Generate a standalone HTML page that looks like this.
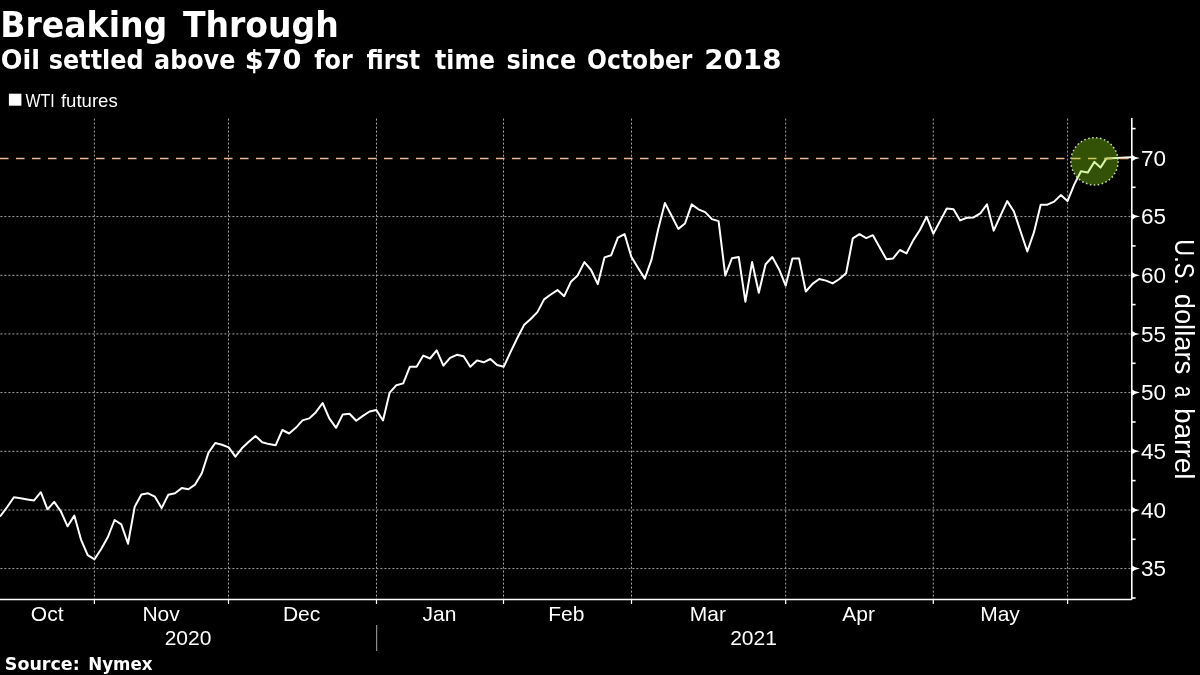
<!DOCTYPE html>
<html><head><meta charset="utf-8"><style>
html,body{margin:0;padding:0;background:#000;}
body{width:1200px;height:675px;overflow:hidden;position:relative;}
svg{will-change:transform;position:absolute;left:0;top:0;display:block;}
</style></head><body>
<svg width="1200" height="675" viewBox="0 0 1200 675">
<rect width="1200" height="675" fill="#000"/>
<text x="0" y="36.8" font-family="'DejaVu Sans', sans-serif" font-weight="bold" font-size="35" fill="#fff" transform="translate(0.16 0) scale(0.9474 1)">Breaking</text>
<text x="0" y="36.8" font-family="'DejaVu Sans', sans-serif" font-weight="bold" font-size="35" fill="#fff" transform="translate(182.9 0) scale(0.9451 1)">Through</text>
<text x="0" y="68.8" font-family="'DejaVu Sans', sans-serif" font-weight="bold" font-size="26.5" fill="#fff" transform="translate(0.74 0) scale(0.9632 1)">Oil</text>
<text x="0" y="68.8" font-family="'DejaVu Sans', sans-serif" font-weight="bold" font-size="26.5" fill="#fff" transform="translate(48.8 0) scale(0.902 1)">settled</text>
<text x="0" y="68.8" font-family="'DejaVu Sans', sans-serif" font-weight="bold" font-size="26.5" fill="#fff" transform="translate(154.1 0) scale(0.9 1)">above</text>
<text x="0" y="68.8" font-family="'DejaVu Sans', sans-serif" font-weight="bold" font-size="26.5" fill="#fff" transform="translate(244.65 0) scale(1.025 1)">$70</text>
<text x="0" y="68.8" font-family="'DejaVu Sans', sans-serif" font-weight="bold" font-size="26.5" fill="#fff" transform="translate(314.2 0) scale(0.9023 1)">for</text>
<text x="0" y="68.8" font-family="'DejaVu Sans', sans-serif" font-weight="bold" font-size="26.5" fill="#fff" transform="translate(366.4 0) scale(0.8787 1)">first</text>
<text x="0" y="68.8" font-family="'DejaVu Sans', sans-serif" font-weight="bold" font-size="26.5" fill="#fff" transform="translate(435.0 0) scale(0.8924 1)">time</text>
<text x="0" y="68.8" font-family="'DejaVu Sans', sans-serif" font-weight="bold" font-size="26.5" fill="#fff" transform="translate(506.4 0) scale(0.9027 1)">since</text>
<text x="0" y="68.8" font-family="'DejaVu Sans', sans-serif" font-weight="bold" font-size="26.5" fill="#fff" transform="translate(587.12 0) scale(0.8847 1)">October</text>
<text x="0" y="68.8" font-family="'DejaVu Sans', sans-serif" font-weight="bold" font-size="26.5" fill="#fff" transform="translate(704.31 0) scale(1.0457 1)">2018</text>
<text x="0" y="669.6" font-family="'DejaVu Sans', sans-serif" font-weight="bold" font-size="17" fill="#fff" transform="translate(4.77 0) scale(1.03 1)">Source:</text>
<text x="0" y="669.6" font-family="'DejaVu Sans', sans-serif" font-weight="bold" font-size="17" fill="#fff" transform="translate(88.22 0) scale(0.9812 1)">Nymex</text>
<text x="0" y="106.75" font-family="'Liberation Sans', sans-serif" font-weight="normal" font-size="17.5" fill="#fff" transform="translate(25.5 0) scale(0.9065 1)">WTI</text>
<text x="0" y="0" font-family="'Liberation Sans', sans-serif" font-weight="normal" font-size="27.5" fill="#fff" transform="translate(1174.6 239.3) rotate(90) scale(0.851 1)">U.S.</text>
<text x="0" y="0" font-family="'Liberation Sans', sans-serif" font-weight="normal" font-size="27.5" fill="#fff" transform="translate(1174.6 293.71) rotate(90) scale(0.9949 1)">dollars</text>
<text x="0" y="0" font-family="'Liberation Sans', sans-serif" font-weight="normal" font-size="27.5" fill="#fff" transform="translate(1174.6 385.96) rotate(90) scale(0.7357 1)">a</text>
<text x="0" y="0" font-family="'Liberation Sans', sans-serif" font-weight="normal" font-size="27.5" fill="#fff" transform="translate(1174.6 407.96) rotate(90) scale(1.0194 1)">barrel</text>
<text x="0" y="106.75" font-family="'Liberation Sans', sans-serif" font-weight="normal" font-size="17.5" fill="#fff" transform="translate(60.9 0) scale(1.0623 1)">futures</text>

<rect x="8.9" y="93.7" width="12.5" height="12" fill="#fff"/>
<g stroke="#a6a6a6" stroke-width="1" stroke-dasharray="2 2" fill="none"><g stroke-dashoffset="-0.4"><line x1="0" y1="568.6" x2="1131.8" y2="568.6"/><line x1="0" y1="510.0" x2="1131.8" y2="510.0"/><line x1="0" y1="451.3" x2="1131.8" y2="451.3"/><line x1="0" y1="392.6" x2="1131.8" y2="392.6"/><line x1="0" y1="333.9" x2="1131.8" y2="333.9"/><line x1="0" y1="275.3" x2="1131.8" y2="275.3"/><line x1="0" y1="216.6" x2="1131.8" y2="216.6"/></g><g stroke-dashoffset="-0.6"><line x1="94.4" y1="118" x2="94.4" y2="599.4"/><line x1="228.5" y1="118" x2="228.5" y2="599.4"/><line x1="376.5" y1="118" x2="376.5" y2="599.4"/><line x1="503.5" y1="118" x2="503.5" y2="599.4"/><line x1="631.5" y1="118" x2="631.5" y2="599.4"/><line x1="785.7" y1="118" x2="785.7" y2="599.4"/><line x1="933.3" y1="118" x2="933.3" y2="599.4"/><line x1="1067.6" y1="118" x2="1067.6" y2="599.4"/></g></g>
<path d="M0.5,516.0 L7.2,507.0 L13.9,497.2 L20.6,498.3 L27.3,499.4 L34.1,500.4 L40.8,492.2 L47.5,509.3 L54.2,501.9 L60.9,511.5 L67.6,526.3 L74.3,515.6 L81.0,539.6 L87.7,555.2 L94.5,559.3 L101.2,549.0 L107.9,537.0 L114.6,520.0 L121.3,524.4 L128.0,543.7 L134.7,506.7 L141.4,494.4 L148.1,493.3 L154.9,496.7 L161.6,508.1 L168.3,494.8 L175.0,493.3 L181.7,488.1 L188.4,489.3 L195.1,484.6 L201.8,473.3 L208.5,452.6 L215.3,443.0 L222.0,444.8 L228.7,447.4 L235.4,456.6 L242.1,448.1 L248.8,441.8 L255.5,436.0 L262.2,442.2 L268.9,444.1 L275.7,445.2 L282.4,430.0 L289.1,433.5 L295.8,427.8 L302.5,420.4 L309.2,418.4 L315.9,412.2 L322.6,403.0 L329.3,418.4 L336.1,427.8 L342.8,414.4 L349.5,413.7 L356.2,420.8 L362.9,415.9 L369.6,411.5 L376.3,410.0 L383.0,420.5 L389.7,392.6 L396.4,385.2 L403.2,383.4 L409.9,366.7 L416.6,366.7 L423.3,355.6 L430.0,358.5 L436.7,350.4 L443.4,365.6 L450.1,357.8 L456.8,354.8 L463.6,356.3 L470.3,366.7 L477.0,360.4 L483.7,362.3 L490.4,359.0 L497.1,365.0 L503.8,366.7 L510.5,352.2 L517.2,338.3 L524.0,325.1 L530.7,319.0 L537.4,312.1 L544.1,299.4 L550.8,294.5 L557.5,290.1 L564.2,296.2 L570.9,281.8 L577.6,275.5 L584.4,262.1 L591.1,270.0 L597.8,284.1 L604.5,257.4 L611.2,255.2 L617.9,237.7 L624.6,234.1 L631.3,256.7 L638.0,267.8 L644.8,278.6 L651.5,259.6 L658.2,229.3 L664.9,203.0 L671.6,215.8 L678.3,228.9 L685.0,223.5 L691.7,204.4 L698.4,209.3 L705.2,212.1 L711.9,219.1 L718.6,221.1 L725.3,275.6 L732.0,258.2 L738.7,256.9 L745.4,301.7 L752.1,262.0 L758.8,292.7 L765.6,264.2 L772.3,257.0 L779.0,269.2 L785.7,285.5 L792.4,258.6 L799.1,258.6 L805.8,291.5 L812.5,283.9 L819.2,279.0 L826.0,280.6 L832.7,283.4 L839.4,279.0 L846.1,273.3 L852.8,238.3 L859.5,234.2 L866.2,238.1 L872.9,235.2 L879.6,247.2 L886.4,259.3 L893.1,258.4 L899.8,250.0 L906.5,253.4 L913.2,240.4 L919.9,230.0 L926.6,216.7 L933.3,233.7 L940.0,221.1 L946.8,208.5 L953.5,209.3 L960.2,220.4 L966.9,217.7 L973.6,217.4 L980.3,213.3 L987.0,204.4 L993.7,230.7 L1000.4,215.9 L1007.2,201.1 L1013.9,211.5 L1020.6,231.5 L1027.3,251.5 L1034.0,232.2 L1040.7,204.7 L1047.4,204.7 L1054.1,201.6 L1060.8,195.1 L1067.5,201.1 L1074.3,184.4 L1081.0,171.2 L1087.7,172.6 L1094.4,161.9 L1100.5,167.6 L1106.4,158.4 L1131.0,157.2" fill="none" stroke="#fff" stroke-width="2" stroke-linejoin="round" stroke-linecap="round"/>
<line x1="0" y1="158.5" x2="1131.8" y2="158.5" stroke="#f0b690" stroke-width="1.4" stroke-dasharray="8.5 7.5"/>
<circle cx="1094.5" cy="161.3" r="23.6" fill="#8ee40e" fill-opacity="0.36" stroke="#c4e0a0" stroke-width="1.5" stroke-dasharray="1.6 2.4"/>
<g stroke="#fff" stroke-width="1.6" fill="none">
<line x1="0" y1="599.5" x2="1131.8" y2="599.5" stroke-width="1.3"/>
<line x1="1131.8" y1="118" x2="1131.8" y2="599.4"/>
<g stroke-width="1.2"><line x1="94.4" y1="599.4" x2="94.4" y2="604"/><line x1="228.5" y1="599.4" x2="228.5" y2="604"/><line x1="376.5" y1="599.4" x2="376.5" y2="604"/><line x1="503.5" y1="599.4" x2="503.5" y2="604"/><line x1="631.5" y1="599.4" x2="631.5" y2="604"/><line x1="785.7" y1="599.4" x2="785.7" y2="604"/><line x1="933.3" y1="599.4" x2="933.3" y2="604"/><line x1="1067.6" y1="599.4" x2="1067.6" y2="604"/></g><line x1="1131.8" y1="598.0" x2="1135.6" y2="598.0"/><line x1="1131.8" y1="539.3" x2="1135.6" y2="539.3"/><line x1="1131.8" y1="480.6" x2="1135.6" y2="480.6"/><line x1="1131.8" y1="422.0" x2="1135.6" y2="422.0"/><line x1="1131.8" y1="363.3" x2="1135.6" y2="363.3"/><line x1="1131.8" y1="304.6" x2="1135.6" y2="304.6"/><line x1="1131.8" y1="245.9" x2="1135.6" y2="245.9"/><line x1="1131.8" y1="187.3" x2="1135.6" y2="187.3"/><line x1="1131.8" y1="128.6" x2="1135.6" y2="128.6"/>
</g>
<line x1="376.7" y1="625" x2="376.7" y2="651" stroke="#aaa" stroke-width="1"/>
<g fill="#fff"><path d="M1131.8,565.33 Q1134.8,568.03 1140.0,568.63 Q1134.8,569.23 1131.8,571.93 Z"/><path d="M1131.8,506.65999999999997 Q1134.8,509.35999999999996 1140.0,509.96 Q1134.8,510.56 1131.8,513.26 Z"/><path d="M1131.8,447.99 Q1134.8,450.69 1140.0,451.29 Q1134.8,451.89000000000004 1131.8,454.59000000000003 Z"/><path d="M1131.8,389.32 Q1134.8,392.02 1140.0,392.62 Q1134.8,393.22 1131.8,395.92 Z"/><path d="M1131.8,330.65 Q1134.8,333.34999999999997 1140.0,333.95 Q1134.8,334.55 1131.8,337.25 Z"/><path d="M1131.8,271.97999999999996 Q1134.8,274.67999999999995 1140.0,275.28 Q1134.8,275.88 1131.8,278.58 Z"/><path d="M1131.8,213.31 Q1134.8,216.01000000000002 1140.0,216.61 Q1134.8,217.21 1131.8,219.91000000000003 Z"/><path d="M1131.8,154.64 Q1134.8,157.34 1140.0,157.94 Q1134.8,158.54 1131.8,161.24 Z"/></g>
<g font-family="'Liberation Sans', sans-serif" fill="#fff">
<g font-size="22.5"><text x="1141" y="576.4">35</text><text x="1141" y="517.8">40</text><text x="1141" y="459.1">45</text><text x="1141" y="400.4">50</text><text x="1141" y="341.8">55</text><text x="1141" y="283.1">60</text><text x="1141" y="224.4">65</text><text x="1141" y="165.7">70</text></g>
<g font-size="21" text-anchor="middle"><text x="47.2" y="620.8">Oct</text><text x="161.1" y="620.8">Nov</text><text x="301.6" y="620.8">Dec</text><text x="439.5" y="620.8">Jan</text><text x="566.3" y="620.8">Feb</text><text x="707.9" y="620.8">Mar</text><text x="858.6" y="620.8">Apr</text><text x="1000.0" y="620.8">May</text></g>
<g font-size="21" text-anchor="middle"><text x="188" y="645.2">2020</text>
<text x="753.5" y="645.2">2021</text>
</g>
</g>
</svg>
</body></html>
